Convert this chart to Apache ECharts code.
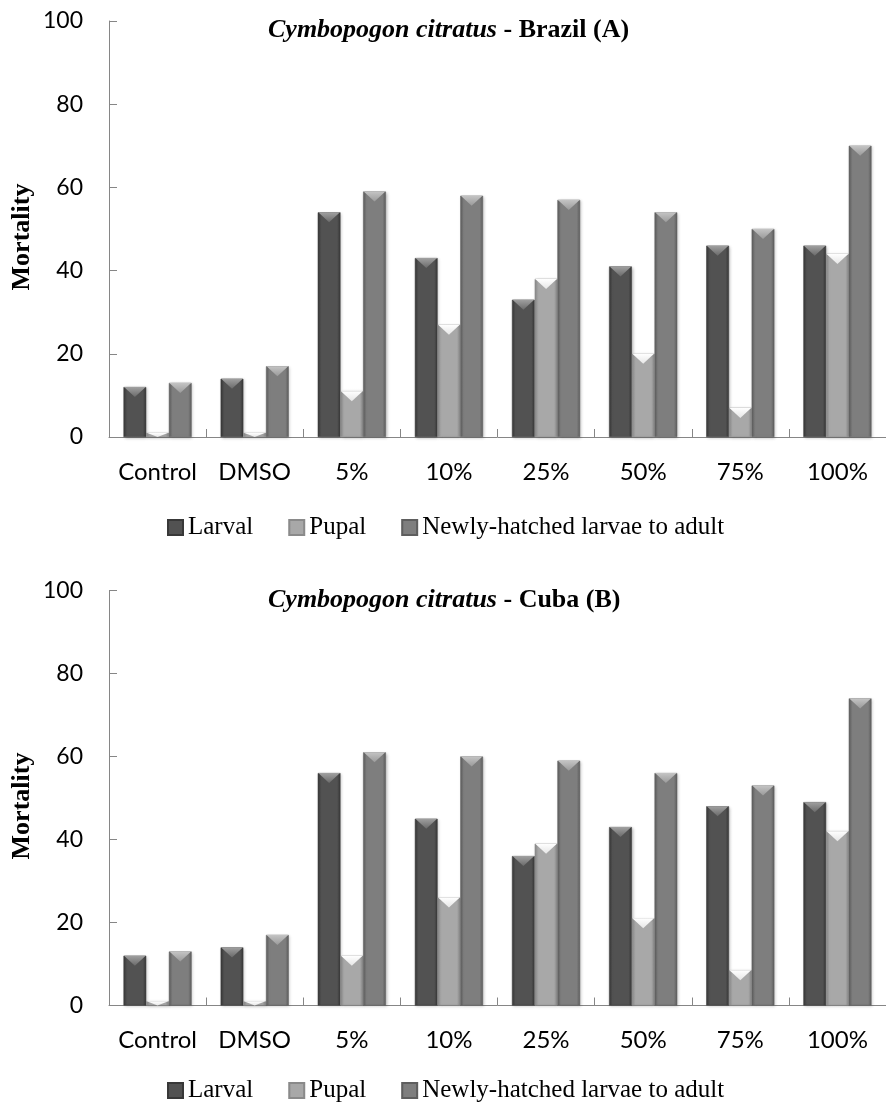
<!DOCTYPE html>
<html>
<head>
<meta charset="utf-8">
<script src="https://cdn.jsdelivr.net/npm/echarts@6/dist/echarts.min.js"></script>
<style>
html,body{margin:0;padding:0;background:#fff;}
#c{width:886px;height:1105px;}
</style>
</head>
<body>
<div id="c"></div>
<script>
const categories = ['Control', 'DMSO', '5%', '10%', '25%', '50%', '75%', '100%'];
const seriesNames = ['Larval', 'Pupal', 'Newly-hatched larvae to adult'];
const yTicks = [0, 20, 40, 60, 80, 100];

// Chart A: Brazil
const brazilLarval = [12, 14, 54, 43, 33, 41, 46, 46];
const brazilPupal  = [1, 1, 11, 27, 38, 20, 7, 44];
const brazilNewly  = [13, 17, 59, 58, 57, 54, 50, 70];

// Chart B: Cuba
const cubaLarval = [12, 14, 56, 45, 36, 43, 48, 49];
const cubaPupal  = [1, 1, 12, 26, 39, 21, 8.5, 42];
const cubaNewly  = [13, 17, 61, 60, 59, 56, 53, 74];

const titles = [
  ['Cymbopogon citratus', ' - Brazil (A)'],
  ['Cymbopogon citratus', ' - Cuba (B)']
];

const BW = 22.7;
const faceColors = [
  {edge: '#383838', mid: '#525252', bevelTop: '#a0a0a0', bevelBot: '#6a6a6a'},
  {edge: '#8a8a8a', mid: '#a8a8a8', bevelTop: '#ffffff', bevelBot: '#e6e6e6'},
  {edge: '#5e5e5e', mid: '#7e7e7e', bevelTop: '#c4c4c4', bevelBot: '#9a9a9a'}
];

function hGrad(c) {
  return new echarts.graphic.LinearGradient(0, 0, 1, 0, [
    {offset: 0, color: c.edge},
    {offset: 0.15, color: c.mid},
    {offset: 0.85, color: c.mid},
    {offset: 1, color: c.edge}
  ]);
}
function vGrad(c) {
  return new echarts.graphic.LinearGradient(0, 0, 0, 1, [
    {offset: 0, color: c.bevelTop},
    {offset: 1, color: c.bevelBot}
  ]);
}

const grids = [
  {left: 109, top: 21, width: 788, height: 416},
  {left: 109, top: 590.5, width: 788, height: 415}
];

const xAxes = grids.map((g, i) => ({
  type: 'category', gridIndex: i, data: categories,
  axisLine: {lineStyle: {color: '#868686', width: 1}},
  axisTick: {show: true, inside: true, length: 8, interval: 0, lineStyle: {color: '#868686'}},
  axisLabel: {color: '#000', fontFamily: 'Lato', fontSize: 24, margin: 23, interval: 0, hideOverlap: false},
  splitLine: {show: false}
}));
const yAxes = grids.map((g, i) => ({
  type: 'value', gridIndex: i, min: 0, max: 100, interval: 20,
  axisLine: {show: true, lineStyle: {color: '#868686', width: 1}},
  axisTick: {show: true, inside: true, length: 8, lineStyle: {color: '#868686'}},
  axisLabel: {color: '#000', fontFamily: 'Lato', fontSize: 23, margin: 26},
  splitLine: {show: false}
}));

const allData = [
  [brazilLarval, brazilPupal, brazilNewly],
  [cubaLarval, cubaPupal, cubaNewly]
];

const series = [];
allData.forEach((set, gi) => {
  set.forEach((vals, si) => {
    series.push({
      type: 'bar', name: seriesNames[si], xAxisIndex: gi, yAxisIndex: gi,
      data: vals, barWidth: BW, barGap: '0%',
      itemStyle: {color: hGrad(faceColors[si]), borderColor: faceColors[si].edge, borderWidth: 0.5,
        shadowColor: 'rgba(0,0,0,0.25)', shadowBlur: 3, shadowOffsetX: 1, shadowOffsetY: 1},
      z: 2
    });
  });
  set.forEach((vals, si) => {
    series.push({
      type: 'pictorialBar', name: 'bevel' + gi + si, xAxisIndex: gi, yAxisIndex: gi,
      data: vals.map(v => ({value: v, symbolSize: [BW - 1, Math.min(10, v * 4.15)]})),
      barWidth: BW, barGap: '0%',
      symbol: 'path://M0,0L10,0L5,4Z', symbolPosition: 'end', symbolRepeat: false,
      itemStyle: {color: vGrad(faceColors[si])},
      z: 3, silent: true
    });
  });
});

const option = {
  animation: false,
  backgroundColor: '#fff',
  title: titles.map((t, i) => ({
    text: '{i|' + t[0] + '}{b|' + t[1] + '}',
    left: 263, top: i === 0 ? 12 : 582,
    textStyle: {
      rich: {
        i: {fontFamily: 'Liberation Serif', fontStyle: 'italic', fontWeight: 'bold', fontSize: 26, color: '#000'},
        b: {fontFamily: 'Liberation Serif', fontWeight: 'bold', fontSize: 26, color: '#000'}
      }
    }
  })),
  legend: [
    {data: seriesNames, left: 167, top: 515, padding: 0, itemGap: 35, itemWidth: 15, itemHeight: 15,
      icon: 'rect', textStyle: {fontFamily: 'Liberation Serif', fontSize: 25, color: '#000'}},
    {data: seriesNames, left: 167, top: 1078, padding: 0, itemGap: 35, itemWidth: 15, itemHeight: 15,
      icon: 'rect', textStyle: {fontFamily: 'Liberation Serif', fontSize: 25, color: '#000'}}
  ],
  grid: grids,
  xAxis: xAxes,
  yAxis: yAxes,
  series: series,
  graphic: [
    {type: 'text', x: 22, y: 237, rotation: Math.PI / 2,
      style: {text: 'Mortality', font: 'bold 26px "Liberation Serif"', fill: '#000', align: 'center', verticalAlign: 'middle'}},
    {type: 'text', x: 22, y: 806, rotation: Math.PI / 2,
      style: {text: 'Mortality', font: 'bold 26px "Liberation Serif"', fill: '#000', align: 'center', verticalAlign: 'middle'}}
  ]
};

const chart = echarts.init(document.getElementById('c'), null, {renderer: 'canvas'});
chart.setOption(option);
</script>
</body>
</html>
